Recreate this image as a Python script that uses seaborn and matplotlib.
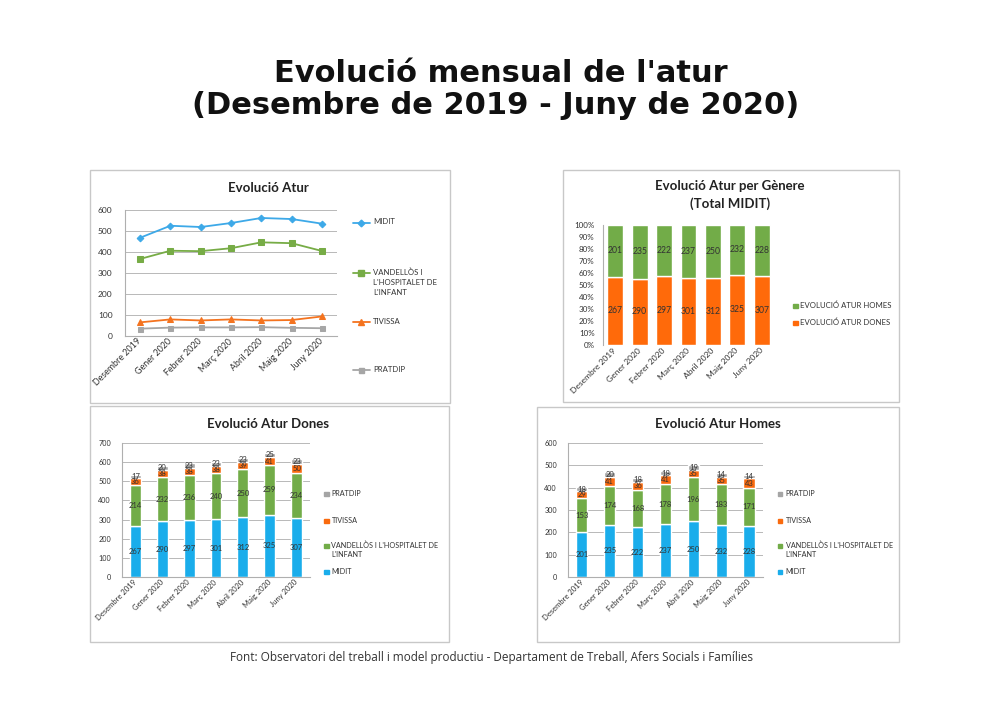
import matplotlib.pyplot as plt
import numpy as np
import pandas as pd
import seaborn as sns
from matplotlib.lines import Line2D
from matplotlib.patches import Rectangle

# %%
# Data
months = ['Desembre 2019', 'Gener 2020', 'Febrer 2020', 'Març 2020',
          'Abril 2020', 'Maig 2020', 'Juny 2020']

# Total per municipi (line chart)
total_midit = [468, 525, 519, 538, 562, 557, 535]
total_vandellos = [367, 406, 404, 418, 446, 442, 405]
total_tivissa = [65, 79, 74, 79, 74, 76, 93]
total_pratdip = [35, 40, 41, 41, 42, 39, 37]

# Dones
dones_midit = [267, 290, 297, 301, 312, 325, 307]
dones_vandellos = [214, 232, 236, 240, 250, 259, 234]
dones_tivissa = [36, 38, 38, 38, 39, 41, 50]
dones_pratdip = [17, 20, 23, 23, 23, 25, 23]

# Homes
homes_midit = [201, 235, 222, 237, 250, 232, 228]
homes_vandellos = [153, 174, 168, 178, 196, 183, 171]
homes_tivissa = [29, 41, 36, 41, 35, 35, 43]
homes_pratdip = [18, 20, 18, 18, 19, 14, 14]

# %%
sns.set_style('white')
plt.rcParams['font.family'] = ['Lato', 'DejaVu Sans']

W, H = 1003, 707
fig = plt.figure(figsize=(W / 100, H / 100), dpi=100)
fig.patch.set_facecolor('white')

TXT = '#333333'
GRID = '#B8B8B8'
AXC = '#AFAFAF'

line_colors = {'MIDIT': '#3DA9E8', 'VAND': '#77AC46', 'TIV': '#F4731F', 'PRAT': '#A6A6A6'}
bar_colors = {'MIDIT': '#1AADEB', 'VAND': '#72AC48', 'TIV': '#F96A0E', 'PRAT': '#A5A5A5'}


def px_rect(l, t, r, b):
    return [l / W, 1 - b / H, (r - l) / W, (b - t) / H]


def fx(x):
    return x / W


def fy(y):
    return 1 - y / H


def panel_box(l, t, r, b):
    fig.patches.append(Rectangle((fx(l), fy(b)), (r - l) / W, (b - t) / H,
                                 transform=fig.transFigure, facecolor='white',
                                 edgecolor='#C8C8C8', lw=1.0, zorder=-5))


def style_axes(ax, ymax, step, ysize, xsize, ypad, grid=True, pct=False):
    ax.set_xlim(-0.5, 6.5)
    ax.set_ylim(0, ymax)
    ticks = np.arange(0, ymax + 1, step)
    ax.set_yticks(ticks)
    if pct:
        ax.set_yticklabels([f'{int(t)}%' for t in ticks])
    ax.set_xlabel('')
    ax.set_ylabel('')
    ax.set_facecolor('none')
    for s in ['top', 'right']:
        ax.spines[s].set_visible(False)
    for s in ['left', 'bottom']:
        ax.spines[s].set_color(AXC)
        ax.spines[s].set_linewidth(0.8)
    if grid:
        ax.yaxis.grid(True, color=GRID, lw=0.7)
        ax.set_axisbelow(True)
    ax.tick_params(axis='y', length=3 if grid else 0, width=0.7, color=GRID,
                   labelsize=ysize, labelcolor=TXT, pad=ypad)
    ax.tick_params(axis='x', length=0, labelsize=xsize, labelcolor=TXT, pad=3)
    ax.set_xticks(range(len(months)))
    ax.set_xticklabels(months, rotation=45, ha='right', va='center',
                       rotation_mode='anchor')


def legend_square(x, y, color, label, size=4.5, fs=5.2, ls=1.3):
    fig.patches.append(Rectangle((fx(x), fy(y + size / 2)), size / W, size / H,
                                 transform=fig.transFigure, color=color, zorder=2))
    fig.text(fx(x + size + 3), fy(y - 4), label, ha='left', va='top',
             fontsize=fs, color=TXT, linespacing=ls)


def legend_line(x, y, color, marker, ms, label, fs=5.6, ls=1.5):
    fig.add_artist(Line2D([fx(x), fx(x + 17)], [fy(y), fy(y)], color=color,
                          lw=1.3, transform=fig.transFigure))
    fig.add_artist(Line2D([fx(x + 8.5)], [fy(y)], color=color, marker=marker,
                          ms=ms, lw=0, transform=fig.transFigure))
    fig.text(fx(x + 20), fy(y - 4.5), label, ha='left', va='top',
             fontsize=fs, color=TXT, linespacing=ls)


# %%
# Main title and source
fig.text(fx(501), fy(73), "Evolució mensual de l'atur", ha='center', va='center',
         fontsize=22, fontweight='bold', family='DejaVu Sans', color='#111111')
fig.text(fx(496), fy(106), '(Desembre de 2019 - Juny de 2020)', ha='center',
         va='center', fontsize=22, fontweight='bold', family='DejaVu Sans',
         color='#111111')
fig.text(fx(492), fy(658),
         'Font: Observatori del treball i model productiu - Departament de Treball, '
         'Afers Socials i Famílies',
         ha='center', va='center', fontsize=8.5, family=['Open Sans', 'DejaVu Sans'],
         color='#333333')

# Panel frames
panel_box(90, 170, 450, 403)
panel_box(563, 170, 899, 402)
panel_box(90, 406, 449, 642)
panel_box(537, 407, 899, 642)

# %%
# Panel 1: Evolució Atur (lines)
ax1 = fig.add_axes(px_rect(125, 210, 337, 336))
line_series = [
    (total_midit, line_colors['MIDIT'], 'D', 3.4),
    (total_vandellos, line_colors['VAND'], 's', 4.6),
    (total_tivissa, line_colors['TIV'], '^', 4.4),
    (total_pratdip, line_colors['PRAT'], 's', 3.6),
]
for vals, c, m, ms in line_series:
    sns.lineplot(x=months, y=vals, color=c, marker=m, markersize=ms,
                 markeredgecolor=c, lw=1.3, sort=False, ax=ax1)
style_axes(ax1, 600, 100, 6, 6.4, 6)
fig.text(fx(268), fy(188), 'Evolució Atur', ha='center', va='center',
         fontsize=9.5, fontweight='bold', color='#222222')
legend_line(353, 223, line_colors['MIDIT'], 'D', 3.4, 'MIDIT')
legend_line(353, 273, line_colors['VAND'], 's', 4.6,
            "VANDELLÒS I\nL'HOSPITALET DE\nL'INFANT")
legend_line(353, 322, line_colors['TIV'], '^', 4.4, 'TIVISSA')
legend_line(353, 370, line_colors['PRAT'], 's', 3.6, 'PRATDIP')

# %%
# Panel 2: Evolució Atur per Gènere (100% stacked)
midit_tot = np.array(dones_midit) + np.array(homes_midit)
pct_dones = np.array(dones_midit) / midit_tot * 100
pct_homes = np.array(homes_midit) / midit_tot * 100

ax2 = fig.add_axes(px_rect(603, 225, 774, 345))
sns.barplot(x=months, y=pct_dones, color='#FF6A0A', width=0.65, errorbar=None,
            saturation=1, ax=ax2)
ax2.bar_label(ax2.containers[-1], labels=[str(v) for v in dones_midit],
              label_type='center', fontsize=6.2, color='#333333')
sns.barplot(x=months, y=pct_homes, bottom=pct_dones, color='#72AC48', width=0.65,
            errorbar=None, saturation=1, ax=ax2)
ax2.bar_label(ax2.containers[-1], labels=[str(v) for v in homes_midit],
              label_type='center', fontsize=6.2, color='#333333')
style_axes(ax2, 100, 10, 5.8, 6.1, 6, grid=False, pct=True)
ax2.spines['bottom'].set_visible(False)
fig.text(fx(730), fy(195), 'Evolució Atur per Gènere\n(Total MIDIT)', ha='center',
         va='center', fontsize=9.5, fontweight='bold', color='#222222',
         linespacing=1.45)
legend_square(793, 306, '#72AC48', 'EVOLUCIÓ ATUR HOMES', size=4.5, fs=5.6)
legend_square(793, 323, '#FF6A0A', 'EVOLUCIÓ ATUR DONES', size=4.5, fs=5.6)


# %%
# Panels 3 and 4: stacked bars by municipality
def stacked(ax, series, ymax):
    bottom = np.zeros(len(months))
    for vals, c in series:
        sns.barplot(x=months, y=vals, bottom=bottom, color=c, width=0.4,
                    errorbar=None, saturation=1, ax=ax)
        ax.bar_label(ax.containers[-1], labels=[str(v) for v in vals],
                     label_type='center', fontsize=5.5, color='#333333')
        bottom = bottom + np.array(vals)
    style_axes(ax, ymax, 100, 5.2, 5.5, 5)


ax3 = fig.add_axes(px_rect(122, 443, 310, 577))
stacked(ax3, [(dones_midit, bar_colors['MIDIT']),
              (dones_vandellos, bar_colors['VAND']),
              (dones_tivissa, bar_colors['TIV']),
              (dones_pratdip, bar_colors['PRAT'])], 700)
fig.text(fx(268), fy(424), 'Evolució Atur Dones', ha='center', va='center',
         fontsize=9.5, fontweight='bold', color='#222222')

ax4 = fig.add_axes(px_rect(568, 443, 763, 577))
stacked(ax4, [(homes_midit, bar_colors['MIDIT']),
              (homes_vandellos, bar_colors['VAND']),
              (homes_tivissa, bar_colors['TIV']),
              (homes_pratdip, bar_colors['PRAT'])], 600)
fig.text(fx(718), fy(424), 'Evolució Atur Homes', ha='center', va='center',
         fontsize=9.5, fontweight='bold', color='#222222')

for lx in (324, 778):
    legend_square(lx, 494, bar_colors['PRAT'], 'PRATDIP')
    legend_square(lx, 521, bar_colors['TIV'], 'TIVISSA')
    legend_square(lx, 546, bar_colors['VAND'], "VANDELLÒS I L'HOSPITALET DE\nL'INFANT")
    legend_square(lx, 572, bar_colors['MIDIT'], 'MIDIT')

fig.savefig('out.png', dpi=100, facecolor='white')
